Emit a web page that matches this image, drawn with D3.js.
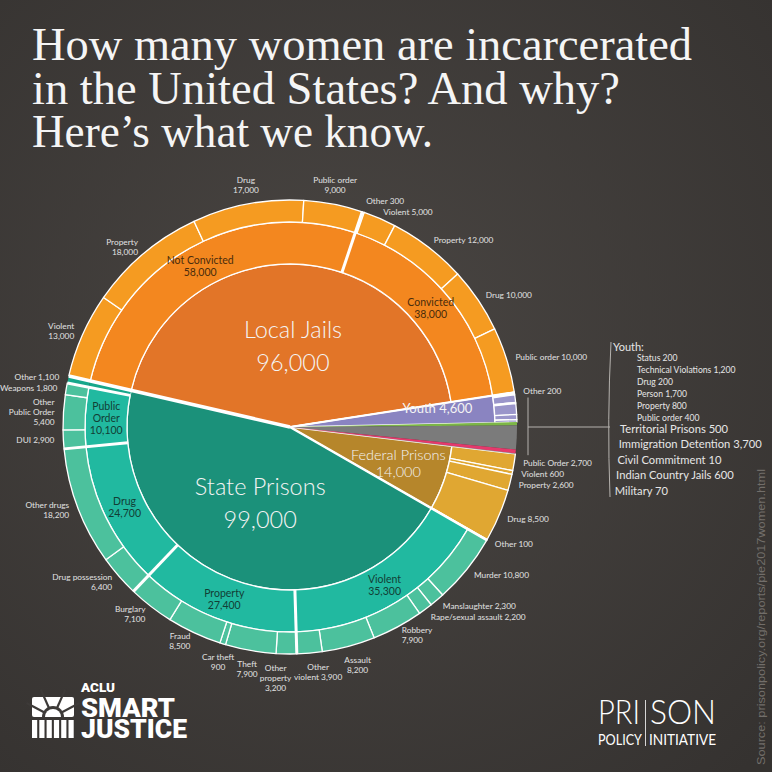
<!DOCTYPE html>
<html>
<head>
<meta charset="utf-8">
<script src="https://cdn.jsdelivr.net/npm/d3@7"></script>
<style>
  body { margin: 0; background: #3e3b39; }
  svg { display: block; }
</style>
</head>
<body>
<script>
var width = 772,
    height = 772;

// top level slices, clockwise starting at the left edge of Local Jails
var groupNames = ['Local Jails', 'Youth', 'Territorial Prisons', 'Immigration Detention', 'Civil Commitment', 'Indian Country Jails', 'Military', 'Federal Prisons', 'State Prisons'];
var groupValues = [96000, 4600, 500, 3700, 10, 600, 70, 14000, 99000];
var groupLabels = ['Local Jails\n96,000', 'Youth 4,600', '', '', '', '', '', 'Federal Prisons\n14,000', 'State Prisons\n99,000'];

// local jails
var jailNames = ['Not Convicted', 'Convicted'];
var jailValues = [58000, 38000];
var jailLabels = ['Not Convicted\n58,000', 'Convicted\n38,000'];
var notConvictedValues = [13000, 18000, 17000, 9000];
var notConvictedLabels = ['Violent\n13,000', 'Property\n18,000', 'Drug\n17,000', 'Public order\n9,000'];
var convictedValues = [300, 5000, 12000, 10000, 10000];
var convictedLabels = ['Other 300', 'Violent 5,000', 'Property 12,000', 'Drug 10,000', 'Public order 10,000'];

// state prisons
var stateNames = ['Violent', 'Property', 'Drug', 'Public Order', 'Other'];
var stateValues = [35300, 27400, 24700, 10100, 1100];
var stateLabels = ['Violent\n35,300', 'Property\n27,400', 'Drug\n24,700', 'Public\nOrder\n10,100', ''];
var violentValues = [10800, 2300, 2200, 7900, 8200, 3900];
var violentLabels = ['Murder 10,800', 'Manslaughter 2,300', 'Rape/sexual assault 2,200', 'Robbery\n7,900', 'Assault\n8,200', 'Other\nviolent 3,900'];
var propertyValues = [3200, 7900, 900, 8500, 7100];
var propertyLabels = ['Other\nproperty\n3,200', 'Theft\n7,900', 'Car theft\n900', 'Fraud\n8,500', 'Burglary\n7,100'];
var drugValues = [6400, 18200];
var drugLabels = ['Drug possession\n6,400', 'Other drugs\n18,200'];
var publicOrderValues = [2900, 5400, 1800];
var publicOrderLabels = ['DUI 2,900', 'Other\nPublic Order\n5,400', 'Weapons  1,800'];
var stateOtherValues = [1100];
var stateOtherLabels = ['Other 1,100'];

// federal prisons
var federalValues = [2700, 600, 2600, 8500, 100];
var federalLabels = ['Public Order  2,700', 'Violent 600', 'Property 2,600', 'Drug 8,500', 'Other 100'];

// youth
var youthValues = [200, 200, 1200, 200, 1700, 800, 400];
var youthLabels = ['Other 200', '', '', '', '', '', ''];

// list on the right
var youthList = ['Status  200', 'Technical Violations 1,200', 'Drug 200', 'Person 1,700', 'Property 800', 'Public order 400'];
var smallList = ['Territorial Prisons 500', 'Immigration Detention 3,700', 'Civil Commitment 10', 'Indian Country Jails 600', 'Military 70'];

var titleLines = ['How many women are incarcerated', 'in the United States? And why?', 'Here\u2019s what we know.'];
var sourceText = 'Source: prisonpolicy.org/reports/pie2017women.html';

var middleByGroup = {
  'Local Jails': { names: jailNames, values: jailValues, labels: jailLabels,
    kids: [[notConvictedValues, notConvictedLabels], [convictedValues, convictedLabels]] },
  'State Prisons': { names: stateNames, values: stateValues, labels: stateLabels,
    kids: [[violentValues, violentLabels], [propertyValues, propertyLabels], [drugValues, drugLabels],
           [publicOrderValues, publicOrderLabels], [stateOtherValues, stateOtherLabels]] }
};
var ringByGroup = {
  'Federal Prisons': [federalValues, federalLabels],
  'Youth': [youthValues, youthLabels]
};

var colors = {
  'Local Jails': ['#e27528', '#f3871f', '#f59b21'],
  'State Prisons': ['#1b917a', '#21b9a0', '#4cc19d'],
  'Federal Prisons': ['#b6862b', '#e0a732'],
  'Youth': ['#8a84c1', '#9a95ca'],
  'Territorial Prisons': ['#7cb646'],
  'Immigration Detention': ['#7b7b7b'],
  'Civil Commitment': ['#7b7b7b'],
  'Indian Country Jails': ['#e5396c'],
  'Military': ['#7b7b7b']
};
var midText = { 'Local Jails': '#4a2c0c', 'State Prisons': '#123e35' };

var cx = 290, cy = 427, r0 = 163, r1 = 205, r2 = 227;
var startAngle = -77 * Math.PI / 180;
var font = 'Lato, "Open Sans", sans-serif';

var svg = d3.select('body')
            .append('svg')
            .attr('width', width)
            .attr('height', height);

var defs = svg.append('defs');
var bg = defs.append('radialGradient').attr('id', 'bg')
    .attr('cx', '45%').attr('cy', '45%').attr('r', '75%');
bg.append('stop').attr('offset', '0%').attr('stop-color', '#4a4643');
bg.append('stop').attr('offset', '100%').attr('stop-color', '#353230');

svg.append('rect')
    .attr('width', width)
    .attr('height', height)
    .attr('fill', 'url(#bg)');

// title
svg.append('g').selectAll('text')
    .data(titleLines)
    .enter().append('text')
    .attr('x', 32)
    .attr('y', (d, i) => 60 + i * 43.5)
    .attr('fill', '#f5f5f5')
    .attr('font-family', '"Liberation Serif", "DejaVu Serif", serif')
    .attr('font-size', 46)
    .attr('textLength', (d, i) => [660, 588, 401][i])
    .attr('lengthAdjust', 'spacingAndGlyphs')
    .text(d => d);

var chart = svg.append('g').attr('transform', 'translate(' + cx + ',' + cy + ')');
var layerArcs = chart.append('g');
var layerLines = chart.append('g');
var layerText = chart.append('g');

var arc = d3.arc();
function items(values, labels) {
  return values.map((v, i) => ({ value: v, label: labels[i], name: labels[i] }));
}
function pieBetween(a0, a1) {
  return d3.pie().sort(null).value(d => d.value).startAngle(a0).endAngle(a1);
}
function midAngle(d) { return (d.startAngle + d.endAngle) / 2; }
function drawArc(d, ri, ro, fill, stroke) {
  layerArcs.append('path')
    .attr('d', arc({ innerRadius: ri, outerRadius: ro, startAngle: d.startAngle, endAngle: d.endAngle }))
    .attr('fill', fill)
    .attr('stroke', stroke ? '#fff' : 'none')
    .attr('stroke-width', 1.3)
    .attr('stroke-linejoin', 'round');
}

var tops = pieBetween(startAngle, startAngle + 2 * Math.PI)(groupNames.map((n, i) => ({ name: n, value: groupValues[i], label: groupLabels[i] })));

var outerLabels = [];
var middleLabels = [];
var separators = [];
var smallSlices = [];

tops.forEach(function(s) {
  var name = s.data.name, col = colors[name];
  if (middleByGroup[name]) {
    var m = middleByGroup[name];
    drawArc(s, 0, r0, col[0], true);
    var mids = pieBetween(s.startAngle, s.endAngle)(items(m.values, m.labels));
    mids.forEach(function(ms, j) {
      var special = m.names[j] === 'Other';
      drawArc(ms, r0, r1, special ? '#17a78b' : col[1], !special);
      if (ms.data.label) middleLabels.push({ text: ms.data.label, angle: midAngle(ms), color: midText[name] });
      var kids = pieBetween(ms.startAngle, ms.endAngle)(items(m.kids[j][0], m.kids[j][1]));
      kids.forEach(function(k) {
        drawArc(k, r1, r2, special ? '#17a78b' : col[2], !special);
        if (k.data.label) outerLabels.push({ text: k.data.label, angle: midAngle(k) });
      });
      if (j > 0) separators.push({ angle: ms.startAngle, from: r0, to: r2, w: 3 });
    });
  } else if (ringByGroup[name]) {
    var rg = ringByGroup[name];
    var ri = name === 'Youth' ? r1 : r0;
    drawArc(s, 0, ri, col[0], true);
    var kids = pieBetween(s.startAngle, s.endAngle)(items(rg[0], rg[1]));
    kids.forEach(function(k) {
      drawArc(k, ri, r2, col[1], true);
      if (k.data.label) outerLabels.push({ text: k.data.label, angle: midAngle(k) });
    });
  } else {
    smallSlices.push(s);
  }
});
smallSlices.forEach(s => drawArc(s, 0, r2, colors[s.data.name][0], false));

// heavier white cuts between the big groups
var byName = {};
tops.forEach(s => byName[s.data.name] = s);
separators.push({ angle: byName['Local Jails'].startAngle, from: 0, to: r2, w: 3.5 });
separators.push({ angle: byName['Local Jails'].endAngle, from: 0, to: r2, w: 2 });
separators.push({ angle: byName['State Prisons'].startAngle, from: 0, to: r2, w: 2.5 });

layerLines.selectAll('line')
    .data(separators)
    .enter().append('line')
    .attr('x1', d => d.from * Math.sin(d.angle))
    .attr('y1', d => -d.from * Math.cos(d.angle))
    .attr('x2', d => d.to * Math.sin(d.angle))
    .attr('y2', d => -d.to * Math.cos(d.angle))
    .attr('stroke', '#fff')
    .attr('stroke-width', d => d.w);

// multi line text block
function block(parent, text, x, y, anchor, valign, size, lh, color, weight) {
  var lines = text.split('\n');
  var h = lines.length * lh;
  var top = valign === 'top' ? y : valign === 'bottom' ? y - h : y - h / 2;
  var g = parent.append('g');
  var t = g.append('text')
      .attr('text-anchor', anchor)
      .attr('font-family', font)
      .attr('font-size', size)
      .attr('font-weight', weight || 400)
      .attr('fill', color);
  lines.forEach(function(l, i) {
    t.append('tspan')
      .attr('x', x)
      .attr('y', top + (i + 0.5) * lh + size * 0.36)
      .text(l);
  });
  return g;
}

// group labels
tops.forEach(function(s) {
  if (!s.data.label) return;
  var a = midAngle(s);
  var name = s.data.name;
  if (name === 'Youth') {
    var rr = r1 - 22;
    block(layerText, s.data.label, rr * Math.sin(a), -rr * Math.cos(a) - 3, 'end', 'center', 13, 15, '#f4f4f4', 400);
    return;
  }
  var rr2 = name === 'Federal Prisons' ? r0 * 0.7 : r0 * 0.5;
  var big = name === 'Federal Prisons' ? 14.5 : 23.5;
  var lh = name === 'Federal Prisons' ? 17 : 33;
  block(layerText, s.data.label, rr2 * Math.sin(a), -rr2 * Math.cos(a), 'middle', 'center', big, lh, '#f4f4f4', 300);
});

// middle ring labels
middleLabels.forEach(function(d) {
  var rr = (r0 + r1) / 2;
  block(layerText, d.text, rr * Math.sin(d.angle), -rr * Math.cos(d.angle), 'middle', 'center', 10.5, 12, d.color);
});

// outer labels, then push apart any that collide
var placed = outerLabels.map(function(d) {
  var s = Math.sin(d.angle), c = Math.cos(d.angle), rr = r2 + 9;
  var anchor, valign;
  if (Math.abs(s) < 0.3) { anchor = 'middle'; valign = c > 0 ? 'bottom' : 'top'; }
  else { anchor = s > 0 ? 'start' : 'end'; valign = 'center'; }
  var g = block(layerText, d.text, rr * s, -rr * c, anchor, valign, 8.3, 10, '#e2e2e2');
  return { g: g, box: g.node().getBBox(), side: anchor !== 'middle', dx: 0, dy: 0 };
});
for (var it = 0; it < 40; it++) {
  for (var i = 0; i < placed.length; i++) {
    for (var j = i + 1; j < placed.length; j++) {
      var a = placed[i], b = placed[j];
      var ax1 = a.box.x + a.dx, ax2 = ax1 + a.box.width, ay1 = a.box.y + a.dy, ay2 = ay1 + a.box.height;
      var bx1 = b.box.x + b.dx, bx2 = bx1 + b.box.width, by1 = b.box.y + b.dy, by2 = by1 + b.box.height;
      var ox = Math.min(ax2, bx2) - Math.max(ax1, bx1) + 2;
      var oy = Math.min(ay2, by2) - Math.max(ay1, by1) + 1;
      if (ox <= 0 || oy <= 0) continue;
      if (a.side && b.side) {
        var sy = (ay1 + ay2) / 2 < (by1 + by2) / 2 ? -1 : 1;
        a.dy += sy * oy / 2; b.dy -= sy * oy / 2;
      } else {
        var sx = (ax1 + ax2) / 2 < (bx1 + bx2) / 2 ? -1 : 1;
        a.dx += sx * ox / 2; b.dx -= sx * ox / 2;
      }
    }
  }
}
placed.forEach(p => p.g.attr('transform', 'translate(' + p.dx + ',' + p.dy + ')'));

// bracket and list on the right
var youthSlice = byName['Youth'], lastSmall = byName['Military'];
var bx = cx + r2 + 11;
var lines = svg.append('g').attr('stroke', '#b5b2ae').attr('stroke-width', 1).attr('fill', 'none');
lines.append('line')
    .attr('x1', bx).attr('x2', bx)
    .attr('y1', cy - (r2 + 11) * Math.cos(youthSlice.startAngle) + 7)
    .attr('y2', cy - (r2 + 11) * Math.cos(lastSmall.endAngle));
lines.append('line')
    .attr('x1', bx).attr('x2', 610)
    .attr('y1', cy).attr('y2', cy);
lines.append('path')
    .attr('d', 'M611,342 Q607,420 610,497');

var list = svg.append('g').attr('font-family', font).attr('fill', '#e6e6e6');
list.append('text').attr('x', 613).attr('y', 351).attr('font-size', 11).text('Youth:');
list.selectAll('.yl')
    .data(youthList)
    .enter().append('text')
    .attr('class', 'yl')
    .attr('x', 637)
    .attr('y', (d, i) => 360.5 + i * 12)
    .attr('font-size', 8.6)
    .text(d => d);
list.selectAll('.sl')
    .data(smallList)
    .enter().append('text')
    .attr('class', 'sl')
    .attr('x', (d, i) => 620 - i * 1.3)
    .attr('y', (d, i) => 433 + i * 15.4)
    .attr('font-size', 11.2)
    .text(d => d);

// ACLU smart justice mark
var aclu = svg.append('g').attr('fill', '#fff');
aclu.append('rect').attr('x', 32).attr('y', 697).attr('width', 42).attr('height', 20).attr('rx', 2);
var sunG = aclu.append('g').attr('stroke', '#3d3a38').attr('stroke-width', 2.2);
[-62, -24, 24, 62].forEach(function(deg) {
  var t = deg * Math.PI / 180;
  sunG.append('line')
    .attr('x1', 53).attr('y1', 717)
    .attr('x2', 53 + 30 * Math.sin(t)).attr('y2', 717 - 30 * Math.cos(t));
});
aclu.append('path')
    .attr('d', d3.arc()({ innerRadius: 0, outerRadius: 11, startAngle: -Math.PI / 2, endAngle: Math.PI / 2 }))
    .attr('transform', 'translate(53,717)')
    .attr('fill', '#3d3a38');
aclu.append('path')
    .attr('d', d3.arc()({ innerRadius: 0, outerRadius: 8, startAngle: -Math.PI / 2, endAngle: Math.PI / 2 }))
    .attr('transform', 'translate(53,717)');
d3.range(6).forEach(function(i) {
  aclu.append('rect').attr('x', 32 + i * 7.3).attr('y', 720).attr('width', 5.2).attr('height', 18);
});
aclu.append('text').attr('x', 81).attr('y', 692).attr('font-family', 'Roboto, sans-serif')
    .attr('font-weight', 900).attr('font-size', 12).attr('textLength', 34).attr('lengthAdjust', 'spacingAndGlyphs').text('ACLU');
aclu.append('text').attr('x', 81).attr('y', 717).attr('font-family', 'Roboto, sans-serif')
    .attr('font-weight', 900).attr('font-size', 26).attr('textLength', 94).attr('lengthAdjust', 'spacingAndGlyphs').text('SMART');
aclu.append('text').attr('x', 81).attr('y', 738).attr('font-family', 'Roboto, sans-serif')
    .attr('font-weight', 900).attr('font-size', 26).attr('textLength', 106).attr('lengthAdjust', 'spacingAndGlyphs').text('JUSTICE');

// prison policy initiative mark
var ppi = svg.append('g').attr('fill', '#fff').attr('font-family', font);
ppi.append('text').attr('x', 598).attr('y', 724).attr('font-size', 33).attr('font-weight', 300)
    .attr('textLength', 42).attr('lengthAdjust', 'spacingAndGlyphs').text('PRI');
ppi.append('text').attr('x', 650).attr('y', 724).attr('font-size', 33).attr('font-weight', 300)
    .attr('textLength', 66).attr('lengthAdjust', 'spacingAndGlyphs').text('SON');
ppi.append('text').attr('x', 598).attr('y', 745).attr('font-size', 14.5)
    .attr('textLength', 44).attr('lengthAdjust', 'spacingAndGlyphs').text('POLICY');
ppi.append('text').attr('x', 649).attr('y', 745).attr('font-size', 14.5)
    .attr('textLength', 67).attr('lengthAdjust', 'spacingAndGlyphs').text('INITIATIVE');
ppi.append('line').attr('x1', 645.5).attr('x2', 645.5).attr('y1', 700).attr('y2', 746)
    .attr('stroke', '#fff').attr('stroke-width', 0.8);

// source
svg.append('text')
    .attr('transform', 'translate(765,765) rotate(-90)')
    .attr('font-family', '"Liberation Sans", Arial, sans-serif')
    .attr('font-size', 11.5)
    .attr('fill', '#726e6a')
    .attr('textLength', 296)
    .attr('lengthAdjust', 'spacingAndGlyphs')
    .text(sourceText);
</script>
</body>
</html>
